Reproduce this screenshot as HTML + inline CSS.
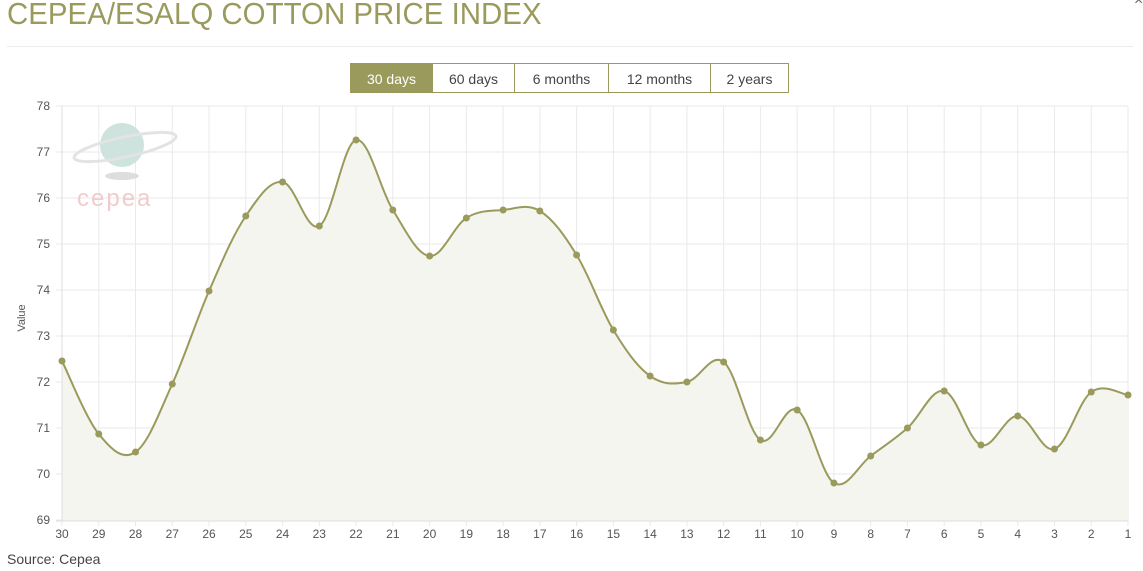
<!DOCTYPE html>
<html><head><meta charset="utf-8"><style>
html,body{margin:0;padding:0;width:1143px;height:571px;background:#fff;overflow:hidden;font-family:"Liberation Sans",sans-serif}
.t{position:absolute;left:7px;top:-4px;font-size:31px;color:#9a9a5c;transform:scaleX(0.95);transform-origin:0 0;white-space:nowrap}
.hr{position:absolute;left:7px;top:46px;width:1126px;height:1px;background:#ececec}
.b{position:absolute;top:63px;height:30px;line-height:30px;text-align:center;font-size:14px;color:#444;border:1px solid #9a9a5c;box-sizing:border-box;background:#fff}
.b.on{background:#9a9a5c;color:#fff}
.src{position:absolute;left:7px;top:551px;font-size:14px;color:#444}
</style></head><body>
<div class="t">CEPEA/ESALQ COTTON PRICE INDEX</div>
<div style="position:absolute;left:1134px;top:-8px;font-size:16px;color:#666">×</div>
<div class="hr"></div>
<div class="b on" style="left:350px;width:83px">30 days</div>
<div class="b" style="left:432px;width:83px">60 days</div>
<div class="b" style="left:514px;width:95px">6 months</div>
<div class="b" style="left:608px;width:103px">12 months</div>
<div class="b" style="left:710px;width:79px">2 years</div>
<svg id="c" width="1143" height="571" style="position:absolute;left:0;top:0" xmlns="http://www.w3.org/2000/svg"></svg>
<div class="src">Source: Cepea</div>
<script>
var s='',x0=62,x1=1128,n=30,dx=(x1-x0)/29;
for(var i=0;i<10;i++){var y=106+i*46;s+='<line x1="56" x2="1128" y1="'+y+'" y2="'+y+'" stroke="#eaeaea"/>';s+='<text x="50" y="'+(y+4)+'" font-size="12" fill="#555" text-anchor="end" font-family="Liberation Sans">'+(78-i)+'</text>';}
for(var i=0;i<n;i++){var x=x0+i*dx;s+='<line x1="'+x+'" x2="'+x+'" y1="106" y2="526" stroke="#eaeaea"/>';s+='<text x="'+x+'" y="538" font-size="12" fill="#555" text-anchor="middle" font-family="Liberation Sans">'+(30-i)+'</text>';}
s+='<text transform="translate(25,318) rotate(-90)" font-size="11" fill="#555" text-anchor="middle" font-family="Liberation Sans">Value</text>';
s+='<circle cx="122" cy="145" r="22" fill="#cfe3de"/><ellipse cx="125" cy="147" rx="52" ry="10" fill="none" stroke="#e3e3e3" stroke-width="3" transform="rotate(-12 125 147)"/><ellipse cx="122" cy="176" rx="17" ry="4" fill="#ddd"/><text x="77" y="206" font-size="24" fill="#f0cccc" font-family="Liberation Sans" letter-spacing="2">cepea</text>';
var ys=[361,434,452,384,291,216,182,226,140,210,256,218,210,211,255,330,376,382,362,440,410,483,456,428,391,445,416,449,392,395];
var P=ys.map(function(y,i){return[x0+i*dx,y]});
var d='M'+P[0][0]+','+P[0][1];
for(var i=0;i<P.length-1;i++){var p0=P[i-1]||P[i],p1=P[i],p2=P[i+1],p3=P[i+2]||P[i+1],k=0.35;
var c1=[p1[0]+(p2[0]-p0[0])*k/2,p1[1]+(p2[1]-p0[1])*k/2],c2=[p2[0]-(p3[0]-p1[0])*k/2,p2[1]-(p3[1]-p1[1])*k/2];
d+=' C'+c1+' '+c2+' '+p2;}
s+='<path d="'+d+' L1128,521 L62,521 Z" fill="#f5f5f0"/>';
s+='<path d="'+d+'" fill="none" stroke="#9a9a5c" stroke-width="2"/>';
s+='<line x1="56" x2="1128" y1="521" y2="521" stroke="#ddd"/><line x1="62" x2="62" y1="106" y2="521" stroke="#ddd"/>';
P.forEach(function(p){s+='<circle cx="'+p[0]+'" cy="'+p[1]+'" r="3.5" fill="#9a9a5c"/>'});
document.getElementById('c').innerHTML=s;
</script>
</body></html>
